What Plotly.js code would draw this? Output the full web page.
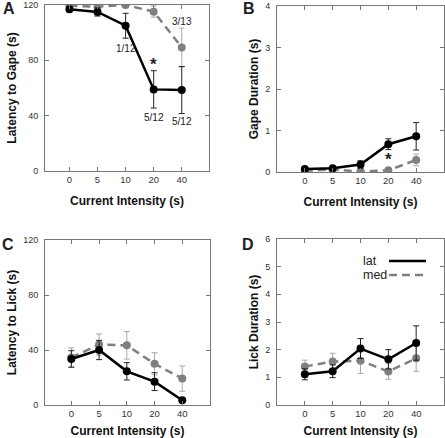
<!DOCTYPE html>
<html><head><meta charset="utf-8">
<script src="https://cdn.plot.ly/plotly-3.0.1.min.js"></script>
<style>html,body{margin:0;padding:0;background:#fff}#chart{width:445px;height:438px}</style>
</head><body><div id="chart"></div>
<script>
const categories = ['0', '5', '10', '20', '40'];

// A: Latency to Gape (s)
const gapeLatLat = [117, 115, 105, 59, 58.5];
const gapeLatLatErr = [2, 3, 9, 13.5, 17];
const gapeLatMed = [119.5, 118.8, 120, 115.2, 89.3];
const gapeLatMedErr = [1, 3, 2, 4, 14];

// B: Gape Duration (s)
const gapeDurLat = [0.07, 0.09, 0.18, 0.67, 0.86];
const gapeDurLatErr = [0.02, 0.03, 0.09, 0.13, 0.33];
const gapeDurMed = [0.03, 0.06, 0.01, 0.04, 0.29];
const gapeDurMedErr = [0.02, 0.03, 0.01, 0.02, 0.14];

// C: Latency to Lick (s)
const lickLatLat = [33.5, 40, 24.5, 17, 3.5];
const lickLatLatErr = [6, 7, 6.3, 6.5, 1];
const lickLatMed = [34.5, 44, 43.4, 30, 19.2];
const lickLatMedErr = [7, 7.7, 10, 8, 9.2];

// D: Lick Duration (s)
const lickDurLat = [1.11, 1.22, 2.04, 1.65, 2.24];
const lickDurLatErr = [0.2, 0.23, 0.36, 0.35, 0.62];
const lickDurMed = [1.39, 1.57, 1.6, 1.21, 1.69];
const lickDurMedErr = [0.23, 0.3, 0.46, 0.28, 0.47];

const seriesNames = ['lat', 'med'];
const BLACK = '#000000', GREY = '#808080', EGREY = '#a8a8a8';
const FONT = 'Liberation Sans, Arial, sans-serif';

function pair(xa, ya, lat, latErr, med, medErr) {
  return [
    {x: categories, y: med, xaxis: xa, yaxis: ya, name: seriesNames[1], type: 'scatter', mode: 'lines+markers',
     line: {color: GREY, width: 2.5, dash: '8px,5px'}, marker: {color: GREY, size: 8},
     error_y: {type: 'data', array: medErr, color: EGREY, thickness: 1, width: 3}, showlegend: false},
    {x: categories, y: lat, xaxis: xa, yaxis: ya, name: seriesNames[0], type: 'scatter', mode: 'lines+markers',
     line: {color: BLACK, width: 2.5}, marker: {color: BLACK, size: 8},
     error_y: {type: 'data', array: latErr, color: '#222', thickness: 1, width: 3}, showlegend: false}
  ];
}

const data = [].concat(
  pair('x', 'y', gapeLatLat, gapeLatLatErr, gapeLatMed, gapeLatMedErr),
  pair('x2', 'y2', gapeDurLat, gapeDurLatErr, gapeDurMed, gapeDurMedErr),
  pair('x3', 'y3', lickLatLat, lickLatLatErr, lickLatMed, lickLatMedErr),
  pair('x4', 'y4', lickDurLat, lickDurLatErr, lickDurMed, lickDurMedErr)
);

const W = 445, H = 438;
function px(a, b) { return [a / W, b / W]; }
function py(top, bottom) { return [1 - bottom / H, 1 - top / H]; }

function xax(dom, anchor, range) {
  return {domain: dom, anchor: anchor, type: 'category', range: range,
    showline: true, linecolor: '#777', linewidth: 1, mirror: 'ticks',
    ticks: 'inside', ticklen: 4, tickcolor: '#777', showgrid: false, zeroline: false,
    ticklabeloverflow: 'allow',
    tickfont: {family: FONT, size: 9.5, color: '#333'},
    title: {text: 'Current Intensity (s)', font: {family: FONT, size: 12, color: '#111', weight: 'bold'}, standoff: 12}};
}
function yax(dom, anchor, range, dtick, title) {
  return {domain: dom, anchor: anchor, range: range, dtick: dtick,
    showline: true, linecolor: '#777', linewidth: 1, mirror: 'ticks',
    ticks: 'inside', ticklen: 4, tickcolor: '#777', showgrid: false, zeroline: false,
    ticklabelstandoff: 4, ticklabeloverflow: 'allow',
    tickfont: {family: FONT, size: 9, color: '#333'},
    title: {text: title, font: {family: FONT, size: 12, color: '#111', weight: 'bold'}, standoff: 3}};
}

const ci = c => categories.indexOf(c);
const ann = (xref, yref, x, y, text, size, extra) => Object.assign({xref, yref, x, y, text, showarrow: false,
  xanchor: 'center', yanchor: 'middle',
  font: {family: FONT, size: size, color: '#222'}}, extra || {});

const layout = {
  width: W, height: H, margin: {l: 0, r: 0, t: 0, b: 0},
  paper_bgcolor: '#fff', plot_bgcolor: '#fff', showlegend: false,
  xaxis: xax(px(45, 209), 'y', [-0.87, 4.97]),
  yaxis: yax(py(5, 171), 'x', [0, 120], 40, 'Latency to Gape (s)'),
  xaxis2: xax(px(277, 444), 'y2', [-1, 5]),
  yaxis2: yax(py(6, 172), 'x2', [0, 4], 1, 'Gape Duration (s)'),
  xaxis3: xax(px(45, 210), 'y3', [-0.95, 5]),
  yaxis3: yax(py(240, 405), 'x3', [0, 120], 40, 'Latency to Lick (s)'),
  xaxis4: xax(px(277, 444), 'y4', [-1, 5]),
  yaxis4: yax(py(239, 405), 'x4', [0, 6], 1, 'Lick Duration (s)'),
  annotations: [
    ann('paper', 'paper', 9 / W, 1 - 8 / H, '<b>A</b>', 16),
    ann('paper', 'paper', 249 / W, 1 - 8 / H, '<b>B</b>', 16),
    ann('paper', 'paper', 8 / W, 1 - 244 / H, '<b>C</b>', 16),
    ann('paper', 'paper', 248 / W, 1 - 244 / H, '<b>D</b>', 16),
    ann('x', 'y', ci('10'), 88.5, '1/12', 10),
    ann('x', 'y', ci('40'), 108, '3/13', 10),
    ann('x', 'y', ci('20'), 77, '<b>*</b>', 17),
    ann('x', 'y', ci('20'), 38.5, '5/12', 10),
    ann('x', 'y', ci('40'), 35.5, '5/12', 10),
    ann('x2', 'y2', ci('20'), 0.3, '<b>*</b>', 17),
    ann('paper', 'paper', 361 / W, 1 - 261 / H, seriesNames[0], 12.5, {xanchor: 'left'}),
    ann('paper', 'paper', 361 / W, 1 - 275 / H, seriesNames[1], 12.5, {xanchor: 'left'})
  ],
  shapes: [
    {type: 'line', xref: 'paper', yref: 'paper', x0: 389 / W, x1: 426 / W, y0: 1 - 261 / H, y1: 1 - 261 / H,
     line: {color: BLACK, width: 2.5}},
    {type: 'line', xref: 'paper', yref: 'paper', x0: 389 / W, x1: 426 / W, y0: 1 - 275 / H, y1: 1 - 275 / H,
     line: {color: GREY, width: 2.5, dash: '8px,5px'}}
  ]
};

Plotly.newPlot('chart', data, layout, {displayModeBar: false, staticPlot: true});
</script></body></html>
